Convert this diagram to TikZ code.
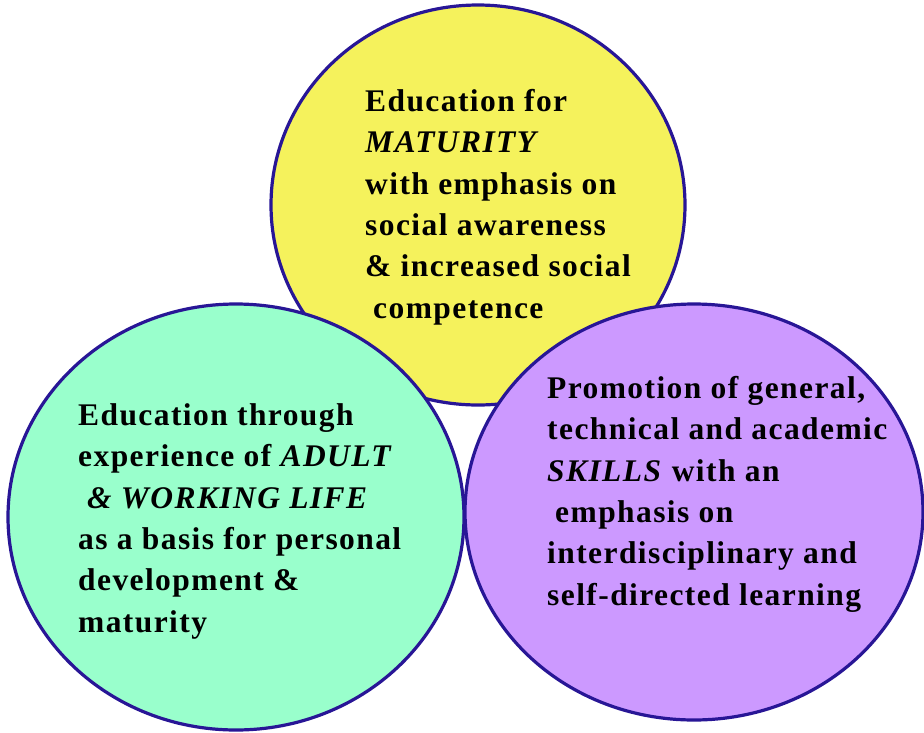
\documentclass[tikz,border=0pt]{standalone}
\usepackage{fontspec}
\setmainfont{Liberation Serif}[LetterSpace=4.5]
\usepackage{tikz}
\usetikzlibrary{shapes.geometric}

\definecolor{ringblue}{RGB}{40,22,150}
\definecolor{maturityfill}{RGB}{245,242,92}
\definecolor{adultfill}{RGB}{153,255,204}
\definecolor{skillsfill}{RGB}{204,153,255}

\begin{document}
\begin{tikzpicture}[x=1pt,y=-1pt]
    % --- DEFINE STYLES ---
    % Style for the three circles
    \tikzstyle{ring} = [ellipse, draw=ringblue, line width=3.2pt, inner sep=0pt]
    % Style for the text set in the circles (placed at the baseline of its last line)
    \tikzstyle{ringtext} = [anchor=base west, align=left, inner sep=0pt,
        font=\fontsize{31.5}{41.3}\selectfont\bfseries]

    \useasboundingbox (0,0) rectangle (924,732);

    % --- CIRCLES ---
    % yellow one first, the two lower ones lie over it
    \node[ring, fill=maturityfill, minimum width=414pt, minimum height=400pt] (maturity) at (478,205) {};
    \node[ring, fill=adultfill, minimum width=456pt, minimum height=426pt] (adult) at (236,517) {};
    \node[ring, fill=skillsfill, minimum width=458pt, minimum height=416pt] (skills) at (694,512) {};

    % --- TEXTS ---
    \node[ringtext] (maturitytext) at (365,318) {Education for\\
        \textit{MATURITY}\\
        with emphasis on\\
        social awareness\\
        \& increased social\\
        \hspace{8pt}competence};
    \node[ringtext] (adulttext) at (78,632) {Education through\\
        experience of \textit{ADULT}\\
        \hspace{9pt}\textit{\& WORKING LIFE}\\
        as a basis for personal\\
        development \&\\
        maturity};
    \node[ringtext] (skillstext) at (547,605) {Promotion of general,\\
        technical and academic\\
        \textit{SKILLS} with an\\
        \hspace{8pt}emphasis on\\
        interdisciplinary and\\
        self-directed learning};
\end{tikzpicture}
\end{document}
